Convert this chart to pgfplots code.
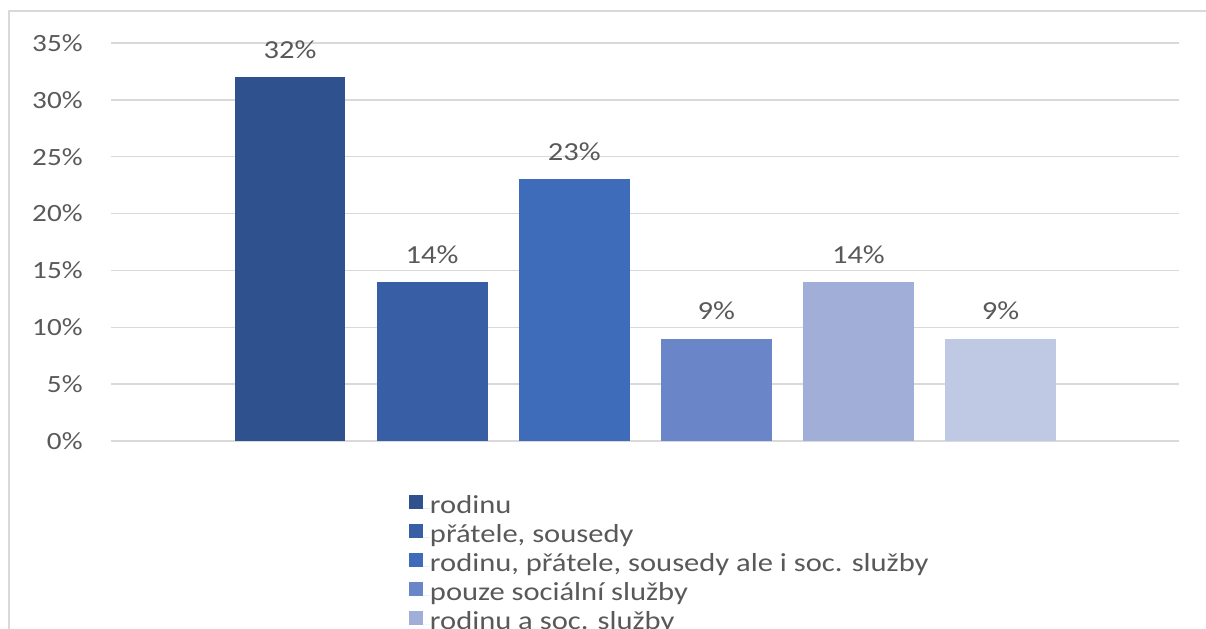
\documentclass[border=0pt]{standalone}
\usepackage{pgfplots}
\pgfplotsset{compat=1.18}
\usepackage{fontspec}
\setmainfont[FakeStretch=1.175]{Carlito}

\definecolor{barA}{HTML}{2F528F}
\definecolor{barB}{HTML}{385FA6}
\definecolor{barC}{HTML}{3E6CBB}
\definecolor{barD}{HTML}{6B86C8}
\definecolor{barE}{HTML}{A0AED8}
\definecolor{barF}{HTML}{C0C9E4}
\definecolor{gridgray}{HTML}{D9D9D9}
\definecolor{textgray}{HTML}{595959}

\pgfplotsset{
  onebar/.style={ybar, bar width=0.781, bar shift=0pt, draw=none},
}

\begin{document}
\begin{tikzpicture}[x=1pt,y=1pt]
\useasboundingbox (0,0) rectangle (603,314);
% outer chart frame
\draw[gridgray, line width=0.75pt] (4.5,-5) -- (4.5,308.5) -- (610,308.5);
\begin{axis}[
  at={(55.5pt,93.5pt)}, anchor=south west,
  scale only axis, width=534pt, height=199pt,
  xmin=-1.2597, xmax=6.256, ymin=0, ymax=35,
  axis line style={draw=none},
  xtick=\empty,
  ytick={0,5,...,35},
  ymajorgrids,
  grid style={gridgray, line width=0.75pt},
  major tick length=0pt,
  /pgf/number format/assume math mode=true,
  font=\fontsize{13}{15}\selectfont,
  yticklabel={\pgfmathprintnumber{\tick}\%},
  yticklabel style={text=textgray, anchor=east, inner sep=0pt, xshift=-14pt,
    font=\fontsize{12.4}{14}\selectfont},
  nodes near coords={\pgfmathprintnumber[fixed,precision=0]{\pgfplotspointmeta}\%},
  nodes near coords style={text=textgray, anchor=center, yshift=13.75pt},
  clip=false,
  legend image code/.code={
    \fill[#1,draw=none] (0pt,0pt) rectangle (7pt,7pt);
    \path (0pt,0pt) -- (10.5pt,0pt);
  },
  legend style={
    at={(0.279,-0.1332)}, anchor=north west,
    draw=none, fill=none, inner sep=0pt, outer sep=0pt,
    text=textgray, font=\fontsize{13}{15}\selectfont,
    nodes={inner sep=0pt, text height=9.5pt, text depth=5pt},
  },
  legend cell align=left,
]
\addplot[onebar, fill=barA] coordinates {(0,32)};
\addlegendentry{rodinu}
\addplot[onebar, fill=barB] coordinates {(1,14)};
\addlegendentry{přátele, sousedy}
\addplot[onebar, fill=barC] coordinates {(2,23)};
\addlegendentry{rodinu, přátele, sousedy ale i soc. služby}
\addplot[onebar, fill=barD] coordinates {(3,9)};
\addlegendentry{pouze sociální služby}
\addplot[onebar, fill=barE] coordinates {(4,14)};
\addlegendentry{rodinu a soc. služby}
\addplot[onebar, fill=barF, forget plot] coordinates {(5,9)};
\end{axis}
\end{tikzpicture}
\end{document}
